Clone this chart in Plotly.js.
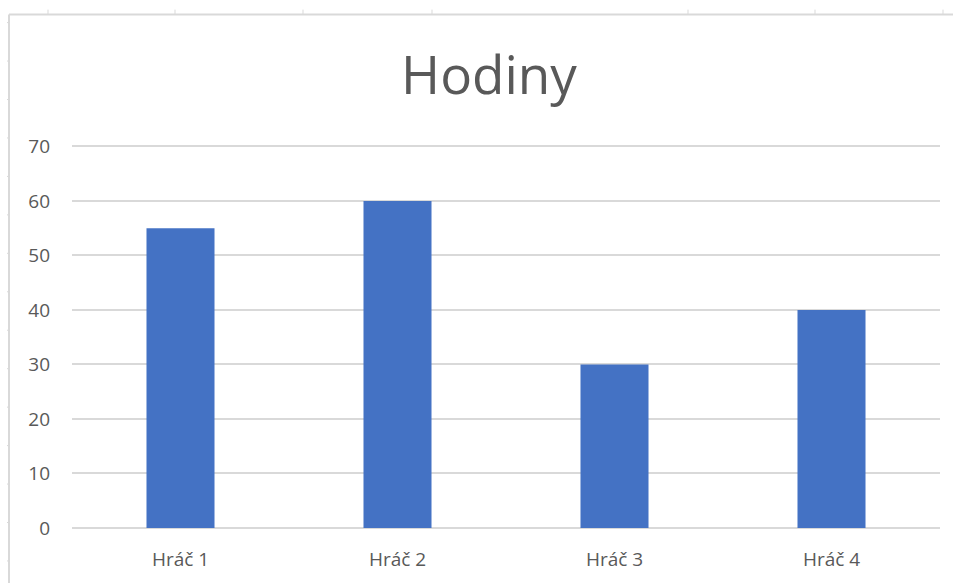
<!DOCTYPE html>
<html>
<head>
<meta charset="utf-8">
<script src="https://cdn.plot.ly/plotly-3.0.1.min.js"></script>
<style>
html,body{margin:0;padding:0;background:#fff;}
#chart{width:953px;height:583px;}
</style>
</head>
<body>
<div id="chart"></div>
<script>
const categories = ["Hráč 1", "Hráč 2", "Hráč 3", "Hráč 4"];
const hours = [55, 60, 30, 40];
const yTicks = [0, 10, 20, 30, 40, 50, 60, 70];
const chartTitle = "Hodiny";

const W = 953, H = 583;
const L = 72, R = 940, B = 528;
const YMAX = 71;
const T = 146 - (B - 146) / 70 * (YMAX - 70);
const px = x => (x - L) / (R - L);
const py = y => (B - y) / (B - T);
const border = "#d9d9d9";

const shapes = [
  {type: "line", xref: "paper", yref: "paper", x0: px(9), x1: px(960), y0: py(14), y1: py(14), line: {color: border, width: 2}},
  {type: "line", xref: "paper", yref: "paper", x0: px(9), x1: px(9), y0: py(14), y1: py(590), line: {color: border, width: 2}}
];
[48, 175, 303, 432, 688, 815, 943].forEach(x => shapes.push({type: "line", xref: "paper", yref: "paper", x0: px(x), x1: px(x), y0: py(9), y1: py(14), line: {color: border, width: 1}}));
for (let y = 22; y < 583; y += 38.5) shapes.push({type: "line", xref: "paper", yref: "paper", x0: px(7), x1: px(9), y0: py(y), y1: py(y), line: {color: border, width: 1}});

const data = [{
  type: "bar",
  x: categories,
  y: hours,
  marker: {color: "#4472C4"},
  hoverinfo: "x+y"
}];

const layout = {
  width: W, height: H,
  margin: {l: L, r: W - R, t: T, b: H - B},
  paper_bgcolor: "#fff", plot_bgcolor: "#fff",
  font: {family: "Open Sans, Noto Sans, sans-serif", color: "#595959", size: 19},
  title: {text: chartTitle, font: {size: 53, color: "#595959", family: "Open Sans, Noto Sans, sans-serif"}, xref: "container", x: 489 / W, xanchor: "center", yref: "container", y: 1 - 75 / H, yanchor: "middle"},
  bargap: 0.6865,
  showlegend: false,
  xaxis: {showline: false, ticks: "", tickfont: {size: 19, color: "#595959"}, ticklabelstandoff: 18},
  yaxis: {range: [0, YMAX], tickvals: yTicks, showline: false, gridcolor: "#d9d9d9", gridwidth: 2, zeroline: true, zerolinecolor: "#d9d9d9", zerolinewidth: 2, ticks: "", ticklabelstandoff: 21, tickfont: {size: 19, color: "#595959"}},
  shapes: shapes
};

Plotly.newPlot("chart", data, layout, {displayModeBar: false, staticPlot: true});
</script>
</body>
</html>
